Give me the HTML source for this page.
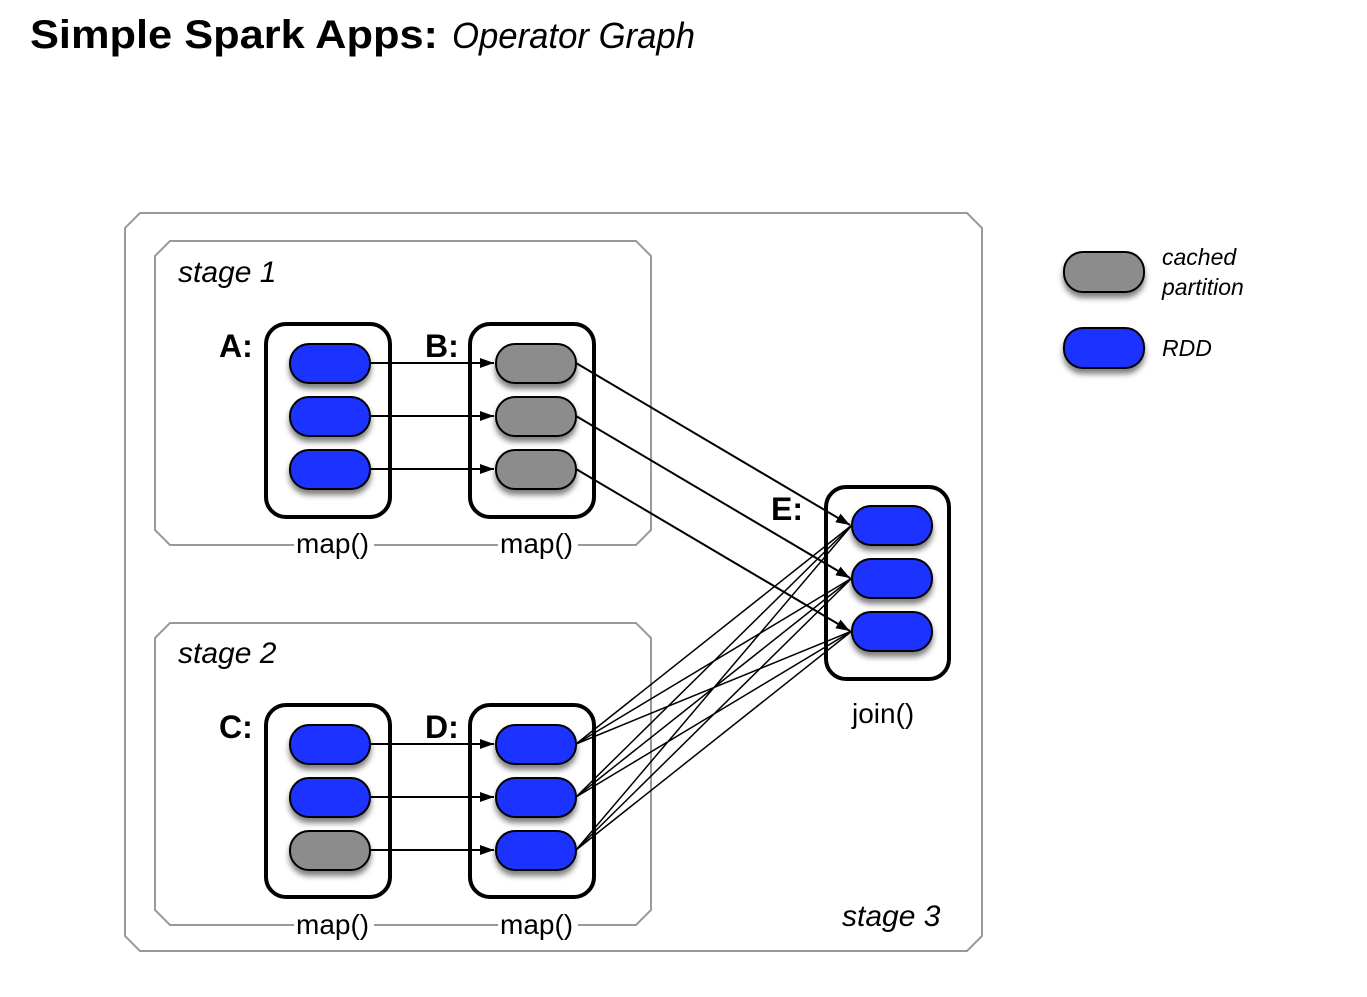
<!DOCTYPE html>
<html><head><style>
body{margin:0;background:#fff;width:1367px;height:997px;overflow:hidden;font-family:"Liberation Sans",sans-serif}
</style></head><body>
<svg width="1367" height="997" xmlns="http://www.w3.org/2000/svg" style="position:absolute;left:0;top:0">
<defs>
<filter id="sh" x="-30%" y="-30%" width="160%" height="180%"><feDropShadow dx="0" dy="5" stdDeviation="3" flood-color="#000" flood-opacity="0.5"/></filter>
<marker id="ar" markerWidth="14" markerHeight="10" refX="14" refY="5" orient="auto" markerUnits="userSpaceOnUse"><path d="M0,0 L14,5 L0,10 Z" fill="#000"/></marker>
</defs>
<text x="30" y="48" font-size="40" font-weight="bold" fill="#000" textLength="408" lengthAdjust="spacingAndGlyphs">Simple Spark Apps:</text>
<text x="452" y="48" font-size="36" font-style="italic" fill="#000" textLength="243" lengthAdjust="spacingAndGlyphs">Operator Graph</text>

<polygon points="140,213 967,213 982,228 982,936 967,951 140,951 125,936 125,228" fill="none" stroke="#999" stroke-width="2"/>
<polygon points="170,241 636,241 651,256 651,530 636,545 170,545 155,530 155,256" fill="none" stroke="#999" stroke-width="2"/>
<polygon points="170,623 636,623 651,638 651,910 636,925 170,925 155,910 155,638" fill="none" stroke="#999" stroke-width="2"/>

<text x="178" y="282" font-size="30" font-style="italic">stage 1</text>
<text x="178" y="663" font-size="30" font-style="italic">stage 2</text>
<text x="842" y="926" font-size="30" font-style="italic">stage 3</text>

<g fill="#fff" stroke="#000" stroke-width="4">
<rect x="266" y="324" width="124" height="193" rx="20"/>
<rect x="470" y="324" width="124" height="193" rx="20"/>
<rect x="266" y="705" width="124" height="192" rx="20"/>
<rect x="470" y="705" width="124" height="192" rx="20"/>
<rect x="826" y="487" width="123" height="192" rx="20"/>
</g>

<g font-size="32" font-weight="bold">
<text x="219" y="357">A:</text><text x="425" y="357">B:</text>
<text x="219" y="738">C:</text><text x="425" y="738">D:</text>
<text x="771" y="520">E:</text>
</g>

<g stroke="#000" stroke-width="2" fill="none">
<line x1="370" y1="363" x2="494" y2="363" marker-end="url(#ar)"/>
<line x1="370" y1="416" x2="494" y2="416" marker-end="url(#ar)"/>
<line x1="370" y1="469" x2="494" y2="469" marker-end="url(#ar)"/>
<line x1="370" y1="744" x2="494" y2="744" marker-end="url(#ar)"/>
<line x1="370" y1="797" x2="494" y2="797" marker-end="url(#ar)"/>
<line x1="370" y1="850" x2="494" y2="850" marker-end="url(#ar)"/>
<line x1="576" y1="363" x2="850" y2="525" marker-end="url(#ar)"/>
<line x1="576" y1="416" x2="850" y2="578" marker-end="url(#ar)"/>
<line x1="576" y1="469" x2="850" y2="631" marker-end="url(#ar)"/>
</g>
<g stroke="#000" stroke-width="1.5">
<line x1="576" y1="744" x2="852" y2="525"/><line x1="576" y1="744" x2="852" y2="578"/><line x1="576" y1="744" x2="852" y2="631"/>
<line x1="576" y1="797" x2="852" y2="525"/><line x1="576" y1="797" x2="852" y2="578"/><line x1="576" y1="797" x2="852" y2="631"/>
<line x1="576" y1="850" x2="852" y2="525"/><line x1="576" y1="850" x2="852" y2="578"/><line x1="576" y1="850" x2="852" y2="631"/>
</g>

<g stroke="#000" stroke-width="2" filter="url(#sh)">
<rect x="290" y="344" width="80" height="39" rx="19" fill="#1a30ff"/>
<rect x="290" y="397" width="80" height="39" rx="19" fill="#1a30ff"/>
<rect x="290" y="450" width="80" height="39" rx="19" fill="#1a30ff"/>
<rect x="496" y="344" width="80" height="39" rx="19" fill="#8c8c8c"/>
<rect x="496" y="397" width="80" height="39" rx="19" fill="#8c8c8c"/>
<rect x="496" y="450" width="80" height="39" rx="19" fill="#8c8c8c"/>
<rect x="290" y="725" width="80" height="39" rx="19" fill="#1a30ff"/>
<rect x="290" y="778" width="80" height="39" rx="19" fill="#1a30ff"/>
<rect x="290" y="831" width="80" height="39" rx="19" fill="#8c8c8c"/>
<rect x="496" y="725" width="80" height="39" rx="19" fill="#1a30ff"/>
<rect x="496" y="778" width="80" height="39" rx="19" fill="#1a30ff"/>
<rect x="496" y="831" width="80" height="39" rx="19" fill="#1a30ff"/>
<rect x="852" y="506" width="80" height="39" rx="19" fill="#1a30ff"/>
<rect x="852" y="559" width="80" height="39" rx="19" fill="#1a30ff"/>
<rect x="852" y="612" width="80" height="39" rx="19" fill="#1a30ff"/>
<rect x="1064" y="252" width="80" height="40" rx="19" fill="#8c8c8c"/>
<rect x="1064" y="328" width="80" height="40" rx="19" fill="#1a30ff"/>
</g>

<g font-size="28">
<rect x="294" y="530" width="80" height="30" fill="#fff"/>
<rect x="498" y="530" width="80" height="30" fill="#fff"/>
<rect x="294" y="910" width="80" height="30" fill="#fff"/>
<rect x="498" y="910" width="80" height="30" fill="#fff"/>
<text x="296" y="553">map()</text><text x="500" y="553">map()</text>
<text x="296" y="934">map()</text><text x="500" y="934">map()</text>
<text x="852" y="723">join()</text>
</g>
<g font-size="23" font-style="italic">
<text x="1162" y="265">cached</text>
<text x="1162" y="295">partition</text>
<text x="1162" y="356">RDD</text>
</g>
</svg>
</body></html>
